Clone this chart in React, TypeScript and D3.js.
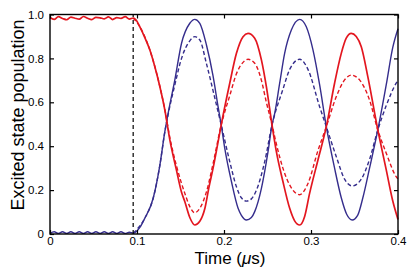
import React, { useEffect, useRef } from "react";
import * as d3 from "d3";

// axis ticks
const xTicks = [0, 0.1, 0.2, 0.3, 0.4];
const yTicks = [0, 0.2, 0.4, 0.6, 0.8, 1.0];

// pulse switched on here (dashed marker)
const pulseStart = 0.0956;

// flat part before the pulse
const flatTimes = [0, 0.0048, 0.0096, 0.0144, 0.0192, 0.024, 0.0288, 0.0336, 0.0384, 0.0432,
  0.048, 0.0528, 0.0576, 0.0624, 0.0672, 0.072, 0.0768, 0.0816, 0.0864, 0.0912];
const redFlat = [0.986, 0.978, 0.99, 0.982, 0.976, 0.988, 0.983, 0.979, 0.991, 0.983,
  0.977, 0.987, 0.985, 0.98, 0.989, 0.977, 0.986, 0.982, 0.99, 0.979];
const blueFlat = [0.003, 0.01, 0.003, 0.01, 0.003, 0.01, 0.003, 0.01, 0.003, 0.01,
  0.003, 0.01, 0.003, 0.01, 0.003, 0.01, 0.003, 0.01, 0.003, 0.008];

// [time (us), population]
const redSolid: [number, number][] = [
  [0.0956, 0.984], [0.099, 0.975], [0.1033, 0.944], [0.109, 0.895], [0.1148, 0.838],
  [0.1205, 0.762], [0.1263, 0.671], [0.132, 0.565], [0.1377, 0.43], [0.1454, 0.29],
  [0.1512, 0.19], [0.155, 0.147], [0.1607, 0.075], [0.1664, 0.041], [0.1722, 0.058],
  [0.1779, 0.115], [0.1828, 0.215], [0.1874, 0.299], [0.1932, 0.42], [0.1968, 0.497],
  [0.2066, 0.687], [0.2143, 0.823], [0.2219, 0.899], [0.2276, 0.914], [0.2353, 0.892],
  [0.243, 0.793], [0.2487, 0.671], [0.2552, 0.497], [0.2602, 0.375], [0.2678, 0.238],
  [0.2755, 0.117], [0.2812, 0.06], [0.287, 0.041], [0.2927, 0.08], [0.2984, 0.185],
  [0.308, 0.337], [0.3176, 0.489], [0.3271, 0.687], [0.3348, 0.823], [0.3405, 0.892],
  [0.3463, 0.914], [0.352, 0.9], [0.3578, 0.853], [0.3653, 0.717], [0.3768, 0.474],
  [0.3865, 0.292], [0.394, 0.15], [0.4, 0.066],
];

const redDashed: [number, number][] = [
  [0.0956, 0.984], [0.1033, 0.944], [0.1148, 0.838], [0.1263, 0.672], [0.132, 0.567],
  [0.1377, 0.44], [0.1454, 0.31], [0.155, 0.185], [0.1607, 0.125], [0.1664, 0.097],
  [0.1722, 0.117], [0.1799, 0.193], [0.1874, 0.32], [0.1968, 0.497], [0.2066, 0.63],
  [0.2143, 0.73], [0.2219, 0.782], [0.2276, 0.796], [0.2353, 0.778], [0.243, 0.7],
  [0.2487, 0.6], [0.2552, 0.497], [0.2602, 0.41], [0.2678, 0.299], [0.2774, 0.21],
  [0.287, 0.179], [0.2965, 0.23], [0.308, 0.38], [0.3176, 0.489], [0.3291, 0.626],
  [0.3386, 0.702], [0.3463, 0.724], [0.3558, 0.702], [0.3673, 0.61], [0.3768, 0.474],
  [0.3865, 0.368], [0.3979, 0.261], [0.4, 0.25],
];

const blueSolid: [number, number][] = [
  [0.0956, 0.004], [0.1033, 0.03], [0.109, 0.072], [0.1186, 0.163], [0.1263, 0.314],
  [0.132, 0.466], [0.1358, 0.55], [0.1435, 0.702], [0.1512, 0.869], [0.1607, 0.96],
  [0.1664, 0.978], [0.1722, 0.96], [0.1799, 0.86], [0.1874, 0.72], [0.1932, 0.58],
  [0.1968, 0.497], [0.2009, 0.39], [0.2086, 0.238], [0.2162, 0.117], [0.22, 0.085],
  [0.2258, 0.064], [0.2315, 0.075], [0.2353, 0.102], [0.243, 0.208], [0.2506, 0.375],
  [0.2552, 0.497], [0.2583, 0.55], [0.264, 0.687], [0.2697, 0.823], [0.2774, 0.929],
  [0.287, 0.978], [0.2946, 0.944], [0.3022, 0.84], [0.3099, 0.68], [0.3176, 0.489],
  [0.3271, 0.3], [0.3348, 0.165], [0.341, 0.09], [0.3474, 0.064], [0.3536, 0.085],
  [0.3596, 0.165], [0.3673, 0.3], [0.3768, 0.474], [0.3865, 0.68], [0.394, 0.85],
  [0.4, 0.935],
];

const blueDashed: [number, number][] = [
  [0.0956, 0.004], [0.109, 0.072], [0.1186, 0.163], [0.1263, 0.314], [0.132, 0.466],
  [0.1358, 0.545], [0.1435, 0.68], [0.1512, 0.8], [0.1607, 0.88], [0.1664, 0.899],
  [0.1722, 0.884], [0.1799, 0.775], [0.1894, 0.62], [0.1968, 0.497], [0.2066, 0.33],
  [0.2143, 0.215], [0.22, 0.165], [0.2258, 0.15], [0.2315, 0.16], [0.2373, 0.2],
  [0.2468, 0.33], [0.2552, 0.497], [0.2678, 0.66], [0.2755, 0.75], [0.287, 0.796],
  [0.2965, 0.75], [0.3099, 0.58], [0.3176, 0.489], [0.3291, 0.352], [0.3386, 0.25],
  [0.3474, 0.219], [0.3578, 0.25], [0.3673, 0.34], [0.3768, 0.474], [0.3865, 0.585],
  [0.3979, 0.687], [0.4, 0.7],
];

const RED = "#e3161f";
const BLUE = "#352d8c";
const FONT = "'Liberation Sans', Arial, Helvetica, sans-serif";

const App = () => {
  const ref = useRef<SVGSVGElement>(null);

  useEffect(() => {
    const svg = d3.select(ref.current);
    svg.selectAll("*").remove();

    const left = 50, right = 398, top = 14.5, bottom = 234;
    const x = d3.scaleLinear().domain([0, 0.4]).range([left, right]);
    const y = d3.scaleLinear().domain([0, 1]).range([bottom, top]);

    const fmt = (d) => (d === 0 ? "0" : d3.format(".1f")(d));

    const line = d3
      .line<[number, number]>()
      .x((d) => x(d[0]))
      .y((d) => y(d[1]))
      .curve(d3.curveMonotoneX);

    const redAll = flatTimes.map((t, i) => [t, redFlat[i]] as [number, number]).concat(redSolid);
    const blueAll = flatTimes.map((t, i) => [t, blueFlat[i]] as [number, number]).concat(blueSolid);

    const plot = svg.append("g");

    // dashed curves underneath
    plot.append("path").attr("d", line(blueDashed)).attr("fill", "none")
      .attr("stroke", BLUE).attr("stroke-width", 1.4).attr("stroke-dasharray", "4,2.5");
    plot.append("path").attr("d", line(redDashed)).attr("fill", "none")
      .attr("stroke", RED).attr("stroke-width", 1.4).attr("stroke-dasharray", "4,2.5");
    plot.append("path").attr("d", line(blueAll)).attr("fill", "none")
      .attr("stroke", BLUE).attr("stroke-width", 1.4);
    plot.append("path").attr("d", line(redAll)).attr("fill", "none")
      .attr("stroke", RED).attr("stroke-width", 1.7);

    // pulse marker
    plot.append("line")
      .attr("x1", x(pulseStart)).attr("x2", x(pulseStart))
      .attr("y1", y(0)).attr("y2", y(1))
      .attr("stroke", "#000").attr("stroke-width", 1.2).attr("stroke-dasharray", "4,3");

    // axes, ticks pointing in
    const bx = svg.append("g").attr("transform", `translate(0,${bottom})`)
      .call(d3.axisBottom(x).tickValues(xTicks).tickSize(-4).tickPadding(3).tickFormat(fmt));
    const tx = svg.append("g").attr("transform", `translate(0,${top})`)
      .call(d3.axisTop(x).tickValues(xTicks).tickSize(-4).tickFormat(() => ""));
    const ly = svg.append("g").attr("transform", `translate(${left},0)`)
      .call(d3.axisLeft(y).tickValues(yTicks).tickSize(-4).tickPadding(6).tickFormat(fmt));
    const ry = svg.append("g").attr("transform", `translate(${right},0)`)
      .call(d3.axisRight(y).tickValues(yTicks).tickSize(-4).tickFormat(() => ""));
    [bx, tx, ly, ry].forEach((g) => {
      g.select(".domain").remove();
      g.attr("font-family", FONT).attr("font-size", 11.5);
      g.selectAll(".tick line").attr("stroke", "#000").attr("stroke-width", 1.2);
      g.selectAll(".tick text").attr("fill", "#000");
    });

    // frame
    svg.append("rect")
      .attr("x", left).attr("y", top)
      .attr("width", right - left).attr("height", bottom - top)
      .attr("fill", "none").attr("stroke", "#000").attr("stroke-width", 1.4);

    // titles
    svg.append("text")
      .attr("transform", `translate(24,115) rotate(-90)`)
      .attr("text-anchor", "middle")
      .attr("font-family", FONT).attr("font-size", 18)
      .text("Excited state population");

    const xt = svg.append("text")
      .attr("x", 230).attr("y", 263.5)
      .attr("text-anchor", "middle")
      .attr("font-family", FONT).attr("font-size", 17);
    xt.append("tspan").text("Time (");
    xt.append("tspan").attr("font-style", "italic").text("\u03bc");
    xt.append("tspan").text("s)");
  }, []);

  return (
    <svg
      ref={ref}
      width={415}
      height={267}
      style={{ position: "absolute", left: 0, top: 0, background: "#fff" }}
    />
  );
};

export default App;
